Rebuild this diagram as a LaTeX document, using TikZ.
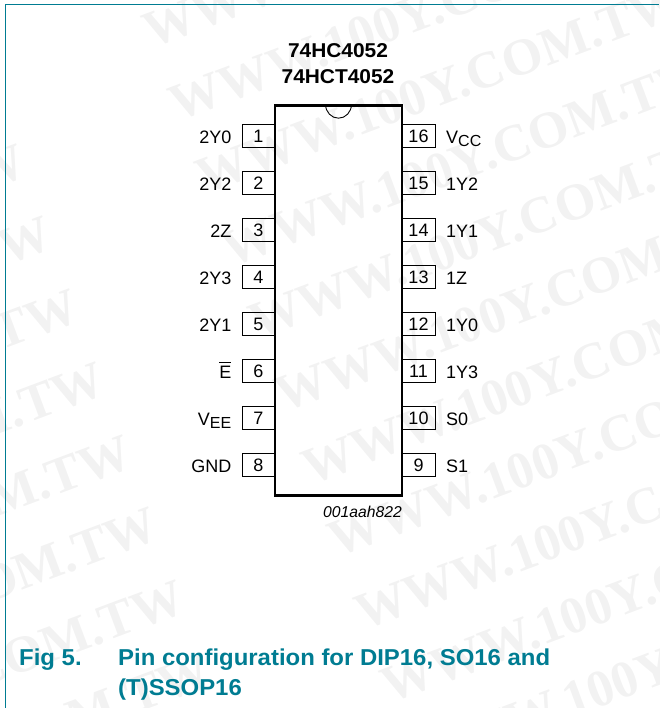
\documentclass[tikz,border=0pt]{standalone}
\usepackage{fontspec}
\setmainfont{Liberation Sans}
\newfontfamily\markfont{Liberation Serif}
\usetikzlibrary{positioning}
\definecolor{figteal}{HTML}{007C92}
\definecolor{markgray}{HTML}{F2F2F2}
\tikzset{
	pinbox/.style={draw, line width=0.9pt, minimum width=33pt, minimum height=23pt, inner sep=0pt, text height=14.6pt, text depth=0pt, font=\fontsize{18}{18}\selectfont},
	pinname/.style={inner sep=0pt, font=\fontsize{18}{18}\selectfont},
	titletext/.style={inner sep=0pt, anchor=base, xscale=1.045, font=\fontsize{20}{20}\selectfont\bfseries},
	captiontext/.style={inner sep=0pt, anchor=base west, xscale=1.04, text=figteal, font=\fontsize{23}{23}\selectfont\bfseries},
	marktext/.style={inner sep=0pt, text=markgray, rotate=20.5, font=\fontsize{52}{52}\selectfont\markfont\bfseries}
}
\newcommand{\lowtext}[2]{#1\raisebox{-3.5pt}{\fontsize{16}{16}\selectfont #2}}
\newcommand{\barE}{\rlap{\raisebox{15.5pt}{\rule{12pt}{0.9pt}}}E}
\begin{document}
\begin{tikzpicture}[x=1pt,y=-1pt]
		\useasboundingbox (0,0) rectangle (659,708);

		% Watermerk
		\begin{scope}
			\clip (0,0) rectangle (659,708);
			\foreach \k in {-1,...,10} {
				\node[marktext, anchor=base west] (markA\k) at (151+26.5*\k,49+72.7*\k) {WWW.100Y.COM.TW};
				\node[marktext, anchor=base east] (markB\k) at (2.5+26.5*\k,102.3+72.7*\k) {WWW.100Y.COM.TW};
			}
		\end{scope}

		% Kader
		\draw[figteal, line width=1pt] (5.5,708) -- (5.5,4.7) -- (659,4.7);

		% Pinnen links
		\foreach \n/\lab in {1/2Y0,2/2Y2,3/2Z,4/2Y3,5/2Y1,6/\barE,7/{\lowtext{V}{EE}},8/GND} {
			\node[pinbox] (pin\n) at (258.5,88.5+47*\n) {\n};
			\node[pinname, anchor=base east] (name\n) at (231.5,96.3+47*\n) {\lab};
		}

		% Pinnen rechts
		\foreach \n/\lab in {16/{\lowtext{V}{CC}},15/1Y2,14/1Y1,13/1Z,12/1Y0,11/1Y3,10/S0,9/S1} {
			\node[pinbox] (pin\n) at (418.5,88.5+47*17-47*\n) {\n};
			\node[pinname, anchor=base west] (name\n) at (446,96.3+47*17-47*\n) {\lab};
		}

		% Behuizing
		\node[draw, line width=2.6pt, minimum width=127pt, minimum height=390pt, inner sep=0pt] (chip) at (338.5,300.5) {};
		\draw[line width=0.9pt] ([xshift=-13pt]chip.north) arc[start angle=180, end angle=360, x radius=13pt, y radius=14pt];

		% Titel
		\node[titletext] (title1) at (338,58) {74HC4052};
		\node[titletext] (title2) at (338,84) {74HCT4052};

		% Code onder de behuizing
		\node[inner sep=0pt, anchor=base east, font=\fontsize{15.7}{15.7}\selectfont\itshape] (code) at (402,517) {001aah822};

		% Onderschrift
		\node[captiontext] (figno) at (19,665.5) {Fig 5.};
		\node[captiontext] (caption1) at (118,665.5) {Pin configuration for DIP16, SO16 and};
		\node[captiontext] (caption2) at (118,695) {(T)SSOP16};

	\end{tikzpicture}
\end{document}
